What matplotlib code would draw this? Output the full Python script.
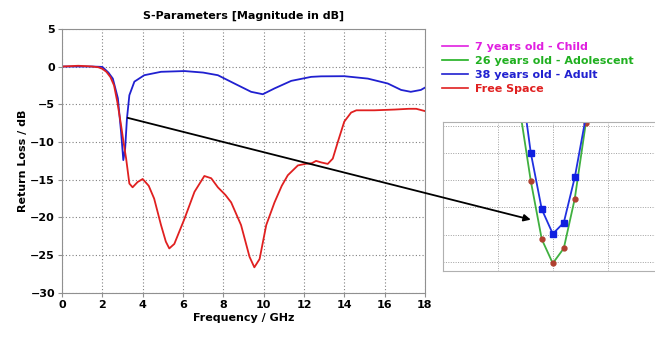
import matplotlib
matplotlib.use("Agg")
import matplotlib.pyplot as plt
from matplotlib.lines import Line2D

# Free space return loss (GHz, dB)
free_f = [0, 0.4, 0.8, 1.2, 1.5, 1.8, 2.0, 2.2, 2.4, 2.58, 2.75, 2.93, 3.05, 3.18, 3.34, 3.5,
          3.75, 4.0, 4.3, 4.57, 4.91, 5.15, 5.32, 5.57, 6.07, 6.57, 7.06, 7.4, 7.73, 8.1,
          8.39, 8.88, 9.1, 9.3, 9.54, 9.8, 10.13, 10.54, 10.9, 11.2, 11.7, 12.06, 12.4,
          12.6, 12.85, 13.18, 13.43, 13.68, 14.0, 14.34, 14.6, 15.5, 16.5, 17.2, 17.57, 18.0]
free_db = [0, 0.05, 0.1, 0.05, 0, -0.1, -0.3, -0.7, -1.4, -2.5, -4.8, -7.8, -10.0, -12.2,
           -15.5, -16.0, -15.3, -14.9, -15.8, -17.5, -21.0, -23.2, -24.1, -23.5, -20.2,
           -16.6, -14.5, -14.8, -16.0, -17.0, -18.0, -21.0, -23.2, -25.2, -26.6, -25.5,
           -21.0, -18.0, -15.8, -14.4, -13.1, -12.9, -12.8, -12.5, -12.7, -12.9, -12.2,
           -10.0, -7.3, -6.1, -5.8, -5.8, -5.7, -5.6, -5.6, -5.9]

# 38 years old - Adult (GHz, dB)
adult_f = [0, 0.5, 1.0, 1.5, 2.0, 2.1, 2.3, 2.52, 2.77, 2.93, 3.04, 3.13, 3.22, 3.34, 3.59,
           4.08, 4.91, 6.07, 7.0, 7.73, 8.55, 9.38, 9.96, 10.54, 11.37, 12.36, 12.85, 14.0,
           15.17, 16.16, 16.82, 17.3, 17.8, 18.0]
adult_db = [0, 0, 0, 0, -0.05, -0.3, -0.8, -1.6, -4.2, -8.7, -12.4, -10.9, -6.9, -3.8, -2.0,
            -1.15, -0.7, -0.6, -0.8, -1.15, -2.25, -3.35, -3.67, -2.9, -1.9, -1.37, -1.3,
            -1.28, -1.6, -2.25, -3.1, -3.35, -3.1, -2.8]

# Zoomed detail of the resonance (arbitrary units)
zoom_x = [1.4, 1.6, 1.8, 2.0, 2.2, 2.4, 2.6]
zoom_adult = [7.0, 4.0, 1.93, 1.03, 1.44, 3.1, 5.3]
zoom_adolescent = [5.6, 2.97, 0.83, -0.05, 0.5, 2.32, 5.08]

legend_labels = ["7 years old - Child", "26 years old - Adolescent",
                 "38 years old - Adult", "Free Space"]
legend_colors = ["#e020e0", "#20b020", "#2020d0", "#e02020"]

fig = plt.figure(figsize=(6.55, 3.37), dpi=100)
ax = fig.add_axes([0.0947, 0.1306, 0.554, 0.784])

ax.plot(adult_f, adult_db, color=legend_colors[2], linewidth=1.3)
ax.plot(free_f, free_db, color=legend_colors[3], linewidth=1.3)

ax.set_xlim(0, 18)
ax.set_ylim(-30, 5)
ax.set_xticks(range(0, 19, 2))
ax.set_yticks(range(-30, 6, 5))
ax.grid(True, linestyle=(0, (1, 2)), color="#808080", linewidth=0.8)
for sp in ax.spines.values():
    sp.set_color("#909090")
ax.tick_params(labelsize=8, length=3, color="#909090", pad=2)
for lbl in ax.get_xticklabels() + ax.get_yticklabels():
    lbl.set_fontweight("bold")
ax.set_xlabel("Frequency / GHz", fontsize=8, fontweight="bold", labelpad=2)
ax.set_ylabel("Return Loss / dB", fontsize=8, fontweight="bold", labelpad=2)
ax.set_title("S-Parameters [Magnitude in dB]", fontsize=8, fontweight="bold", pad=7)

handles = [Line2D([], [], color=c, linewidth=1.2) for c in legend_colors]
leg = fig.legend(handles, legend_labels, loc="upper left", bbox_to_anchor=(0.66, 0.905),
                 frameon=False, handlelength=2.3, handletextpad=0.6,
                 labelspacing=0.35, prop={"weight": "bold", "size": 8})
for txt, c in zip(leg.get_texts(), legend_colors):
    txt.set_color(c)

# Inset
axin = fig.add_axes([0.676, 0.196, 0.33, 0.442])
axin.plot(zoom_x, zoom_adolescent, color="#40b040", linewidth=1.3, marker="o",
          markersize=3.5, markerfacecolor="#b04030", markeredgecolor="#b04030")
axin.plot(zoom_x, zoom_adult, color="#2030e0", linewidth=1.3, marker="s",
          markersize=4, markerfacecolor="#1020e0", markeredgecolor="#1020e0")
axin.set_xlim(0, 3.93)
axin.set_ylim(-0.33, 5.13)
axin.set_xticks([1, 2, 3])
axin.set_yticks(range(0, 6))
axin.tick_params(length=0, labelbottom=False, labelleft=False)
axin.grid(True, linestyle=(0, (1, 1.5)), color="#a0a0a0", linewidth=0.7)
for sp in axin.spines.values():
    sp.set_color("#b0b0b0")

# Arrow from the main resonance to the zoomed view, drawn on top of both axes
axin.annotate("", xy=(1.6, 1.55), xycoords=axin.transData,
              xytext=(3.26, -6.8), textcoords=ax.transData,
              arrowprops=dict(arrowstyle="-|>", color="black", linewidth=1.3,
                              mutation_scale=10, shrinkA=0, shrinkB=0),
              annotation_clip=False)

fig.savefig("out.png", dpi=100)
